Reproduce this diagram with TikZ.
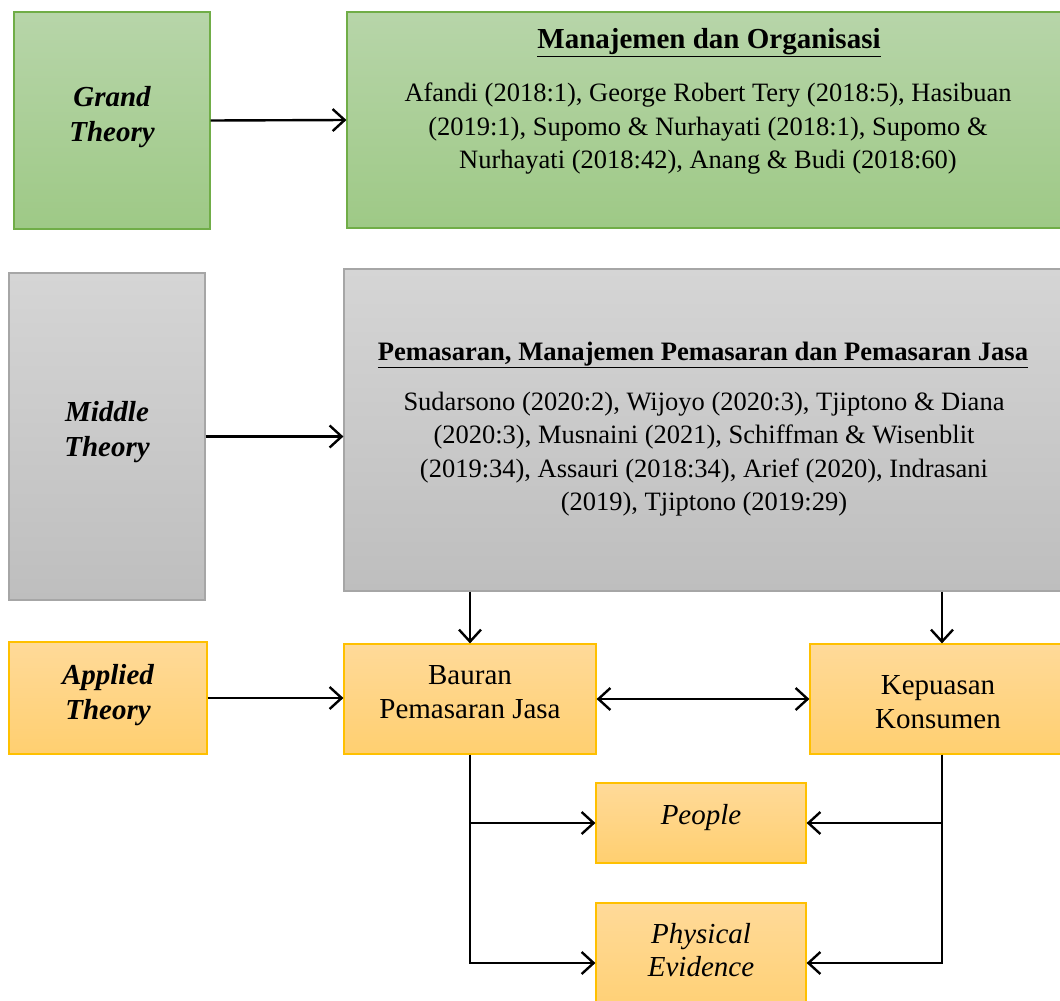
\documentclass[tikz,border=0pt]{standalone}
\usepackage{fontspec}
\setmainfont{Liberation Serif}
\usetikzlibrary{arrows.meta}
\definecolor{gtop}{RGB}{183,213,169}
\definecolor{gbot}{RGB}{158,201,134}
\definecolor{gline}{RGB}{112,173,71}
\definecolor{stop}{RGB}{213,213,213}
\definecolor{sbot}{RGB}{190,190,190}
\definecolor{sline}{RGB}{166,166,166}
\definecolor{otop}{RGB}{255,218,153}
\definecolor{obot}{RGB}{255,207,112}
\definecolor{oline}{RGB}{255,192,0}
\begin{document}
\begin{tikzpicture}[x=1pt,y=-1pt,
  bx/.style={rectangle, inner sep=0pt, line width=1.2pt},
  greenbox/.style={bx, draw=gline, top color=gtop, bottom color=gbot},
  graybox/.style={bx, draw=sline, top color=stop, bottom color=sbot},
  orangebox/.style={bx, draw=oline, top color=otop, bottom color=obot},
  txt/.style={align=center, inner sep=0pt, font=\fontsize{26.5}{33.5}\selectfont},
  big/.style={align=center, inner sep=0pt, font=\fontsize{29}{34}\selectfont},
  bigit/.style={big, font=\fontsize{29}{33}\selectfont\itshape},
  ttl/.style={align=center, inner sep=0pt, font=\bfseries\fontsize{#1}{30}\selectfont},
  side/.style={align=center, inner sep=0pt, font=\fontsize{29}{34.5}\selectfont\bfseries\itshape},
  arr/.style={-{Straight Barb[length=12pt,width=22pt]}, line width=2.4pt},
  darr/.style={{Straight Barb[length=12pt,width=22pt]}-{Straight Barb[length=12pt,width=22pt]}, line width=2.4pt}
]
\useasboundingbox (0,0) rectangle (1060,1001);

% Grand theory row
\node[greenbox, minimum width=196pt, minimum height=217pt] (grand) at (112,120.5) {};
\node[side] (grandt) at (112,117) {Grand\\Theory};
\node[greenbox, minimum width=720pt, minimum height=216pt] (manaj) at (707,120) {};
\node[ttl=29] (manajt) at (709,43) {\underline{Manajemen dan Organisasi}};
\node[txt] (manajb) at (708,129) {Afandi (2018:1), George Robert Tery (2018:5), Hasibuan\\(2019:1), Supomo \& Nurhayati (2018:1), Supomo \&\\Nurhayati (2018:42), Anang \& Budi (2018:60)};

% Middle theory row
\node[graybox, minimum width=196pt, minimum height=327pt] (middle) at (107,436.5) {};
\node[side] (middlet) at (107,432) {Middle\\Theory};
\node[graybox, minimum width=722pt, minimum height=322pt] (pemas) at (705,430) {};
\node[ttl=26.6] (pemast) at (703,355) {\underline{Pemasaran, Manajemen Pemasaran dan Pemasaran Jasa}};
\node[txt] (pemasb) at (704,454) {Sudarsono (2020:2), Wijoyo (2020:3), Tjiptono \& Diana\\(2020:3), Musnaini (2021), Schiffman \& Wisenblit\\(2019:34), Assauri (2018:34), Arief (2020), Indrasani\\(2019), Tjiptono (2019:29)};

% Applied theory row
\node[orangebox, minimum width=198pt, minimum height=112pt] (applied) at (108,698) {};
\node[side] (appliedt) at (108,695) {Applied\\Theory};
\node[orangebox, minimum width=252pt, minimum height=110pt] (bauran) at (470,699) {};
\node[big] (baurant) at (470,692.5) {Bauran\\Pemasaran Jasa};
\node[orangebox, minimum width=264pt, minimum height=110pt] (kep) at (942,699) {};
\node[big] (kept) at (938,702) {Kepuasan\\Konsumen};

% Indicators
\node[orangebox, minimum width=210pt, minimum height=80pt] (people) at (701,823) {};
\node[bigit] (peoplet) at (701,818) {People};
\node[orangebox, minimum width=210pt, minimum height=120pt] (phys) at (701,963) {};
\node[bigit] (physt) at (701,950) {Physical\\Evidence};

% connectors
\draw[arr] (grand.east) -- (manaj.west);
\draw[arr] (middle.east) -- (middle.east -| pemas.west);
\draw[arr] (applied.east) -- (applied.east -| bauran.west);
\draw[darr] (bauran.east) -- (kep.west);
\draw[arr] (bauran.north |- pemas.south) -- (bauran.north);
\draw[arr] (kep.north |- pemas.south) -- (kep.north);
\draw[arr] (bauran.south) |- (people.west);
\draw[arr] (bauran.south) |- (phys.west);
\draw[arr] (kep.south) |- (people.east);
\draw[arr] (kep.south) |- (phys.east);
\end{tikzpicture}
\end{document}
